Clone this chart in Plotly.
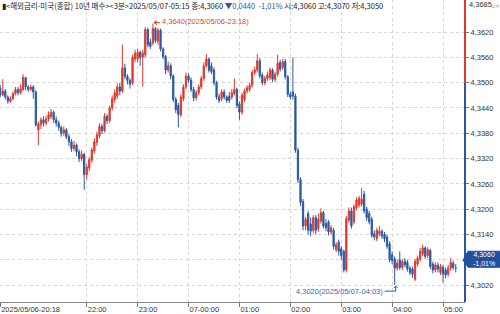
import pandas as pd
import plotly.graph_objects as go

# ---------------- data ----------------
times = pd.date_range("2025-05-06 20:18", periods=180, freq="3min")

opens = [
    4.3487, 4.3471, 4.3480, 4.3466, 4.3456, 4.3462, 4.3474, 4.3484, 4.3476, 4.3484,
    4.3512, 4.3490, 4.3484, 4.3490, 4.3478, 4.3388, 4.3400, 4.3412, 4.3404, 4.3414,
    4.3420, 4.3430, 4.3412, 4.3404, 4.3394, 4.3380, 4.3388, 4.3372, 4.3360, 4.3344,
    4.3352, 4.3336, 4.3320, 4.3330, 4.3282, 4.3298, 4.3316, 4.3338, 4.3358, 4.3374,
    4.3396, 4.3386, 4.3420, 4.3410, 4.3440, 4.3460, 4.3468, 4.3490, 4.3480, 4.3535,
    4.3515, 4.3505, 4.3500, 4.3556, 4.3556, 4.3572, 4.3560, 4.3566, 4.3626, 4.3596,
    4.3594, 4.3628, 4.3598, 4.3624, 4.3580, 4.3562, 4.3530, 4.3540, 4.3516, 4.3460,
    4.3446, 4.3424, 4.3462, 4.3490, 4.3516, 4.3506, 4.3484, 4.3464, 4.3476, 4.3490,
    4.3510, 4.3540, 4.3556, 4.3540, 4.3530, 4.3500, 4.3466, 4.3462, 4.3478, 4.3466,
    4.3468, 4.3466, 4.3474, 4.3484, 4.3450, 4.3430, 4.3460, 4.3480, 4.3484, 4.3494,
    4.3524, 4.3530, 4.3552, 4.3518, 4.3500, 4.3510, 4.3512, 4.3530, 4.3508, 4.3520,
    4.3548, 4.3536, 4.3550, 4.3514, 4.3472, 4.3478, 4.3468, 4.3340, 4.3270, 4.3218,
    4.3160, 4.3190, 4.3165, 4.3150, 4.3180, 4.3154, 4.3172, 4.3192, 4.3166, 4.3170,
    4.3146, 4.3150, 4.3104, 4.3122, 4.3106, 4.3100, 4.3056, 4.3174, 4.3196, 4.3170,
    4.3204, 4.3210, 4.3212, 4.3236, 4.3200, 4.3190, 4.3176, 4.3142, 4.3130, 4.3142,
    4.3148, 4.3140, 4.3134, 4.3118, 4.3092, 4.3082, 4.3060, 4.3080, 4.3062, 4.3076,
    4.3074, 4.3060, 4.3058, 4.3034, 4.3070, 4.3082, 4.3094, 4.3108, 4.3090, 4.3102,
    4.3070, 4.3056, 4.3068, 4.3050, 4.3062, 4.3056, 4.3046, 4.3060, 4.3072, 4.3060,
]
highs = [
    4.3495, 4.3508, 4.3485, 4.3470, 4.3468, 4.3480, 4.3490, 4.3490, 4.3496, 4.3520,
    4.3514, 4.3494, 4.3496, 4.3494, 4.3482, 4.3408, 4.3418, 4.3420, 4.3422, 4.3432,
    4.3438, 4.3434, 4.3420, 4.3410, 4.3398, 4.3396, 4.3392, 4.3378, 4.3366, 4.3362,
    4.3356, 4.3342, 4.3340, 4.3334, 4.3306, 4.3324, 4.3346, 4.3368, 4.3384, 4.3404,
    4.3402, 4.3428, 4.3426, 4.3446, 4.3470, 4.3484, 4.3498, 4.3500, 4.3590, 4.3545,
    4.3520, 4.3510, 4.3566, 4.3578, 4.3580, 4.3576, 4.3578, 4.3632, 4.3630, 4.3604,
    4.3640, 4.3632, 4.3630, 4.3628, 4.3584, 4.3566, 4.3550, 4.3546, 4.3520, 4.3466,
    4.3452, 4.3472, 4.3496, 4.3524, 4.3522, 4.3512, 4.3490, 4.3482, 4.3496, 4.3516,
    4.3548, 4.3568, 4.3560, 4.3548, 4.3536, 4.3504, 4.3474, 4.3484, 4.3484, 4.3470,
    4.3478, 4.3484, 4.3510, 4.3488, 4.3456, 4.3476, 4.3486, 4.3494, 4.3500, 4.3530,
    4.3538, 4.3568, 4.3558, 4.3524, 4.3516, 4.3526, 4.3536, 4.3534, 4.3526, 4.3566,
    4.3554, 4.3556, 4.3556, 4.3518, 4.3478, 4.3560, 4.3474, 4.3346, 4.3276, 4.3224,
    4.3182, 4.3196, 4.3180, 4.3186, 4.3186, 4.3190, 4.3202, 4.3196, 4.3176, 4.3174,
    4.3162, 4.3156, 4.3122, 4.3128, 4.3112, 4.3104, 4.3184, 4.3204, 4.3204, 4.3212,
    4.3228, 4.3232, 4.3250, 4.3244, 4.3206, 4.3196, 4.3182, 4.3150, 4.3156, 4.3160,
    4.3152, 4.3146, 4.3140, 4.3124, 4.3100, 4.3088, 4.3080, 4.3100, 4.3082, 4.3084,
    4.3080, 4.3066, 4.3064, 4.3082, 4.3090, 4.3108, 4.3116, 4.3112, 4.3110, 4.3106,
    4.3076, 4.3074, 4.3074, 4.3070, 4.3068, 4.3062, 4.3068, 4.3084, 4.3078, 4.3070,
]
lows = [
    4.3465, 4.3468, 4.3460, 4.3450, 4.3452, 4.3458, 4.3470, 4.3470, 4.3472, 4.3480,
    4.3482, 4.3478, 4.3480, 4.3462, 4.3396, 4.3352, 4.3390, 4.3396, 4.3398, 4.3408,
    4.3414, 4.3404, 4.3396, 4.3386, 4.3372, 4.3374, 4.3366, 4.3350, 4.3336, 4.3338,
    4.3326, 4.3312, 4.3314, 4.3246, 4.3270, 4.3290, 4.3310, 4.3332, 4.3350, 4.3368,
    4.3378, 4.3382, 4.3402, 4.3404, 4.3434, 4.3452, 4.3462, 4.3470, 4.3476, 4.3508,
    4.3496, 4.3486, 4.3494, 4.3548, 4.3548, 4.3540, 4.3490, 4.3560, 4.3584, 4.3580,
    4.3588, 4.3594, 4.3590, 4.3574, 4.3556, 4.3520, 4.3524, 4.3508, 4.3454, 4.3428,
    4.3394, 4.3418, 4.3456, 4.3484, 4.3500, 4.3478, 4.3456, 4.3458, 4.3470, 4.3484,
    4.3504, 4.3536, 4.3524, 4.3520, 4.3494, 4.3460, 4.3452, 4.3456, 4.3460, 4.3452,
    4.3452, 4.3460, 4.3470, 4.3440, 4.3412, 4.3424, 4.3454, 4.3474, 4.3478, 4.3488,
    4.3518, 4.3524, 4.3510, 4.3494, 4.3494, 4.3504, 4.3506, 4.3502, 4.3502, 4.3514,
    4.3526, 4.3530, 4.3508, 4.3466, 4.3460, 4.3460, 4.3334, 4.3262, 4.3208, 4.3150,
    4.3150, 4.3140, 4.3136, 4.3144, 4.3140, 4.3146, 4.3166, 4.3154, 4.3148, 4.3138,
    4.3140, 4.3104, 4.3098, 4.3090, 4.3080, 4.3050, 4.3050, 4.3168, 4.3154, 4.3164,
    4.3198, 4.3204, 4.3206, 4.3190, 4.3172, 4.3164, 4.3132, 4.3126, 4.3124, 4.3136,
    4.3130, 4.3122, 4.3106, 4.3074, 4.3070, 4.3020, 4.3054, 4.3056, 4.3056, 4.3062,
    4.3052, 4.3044, 4.3038, 4.3030, 4.3064, 4.3076, 4.3088, 4.3082, 4.3084, 4.3058,
    4.3048, 4.3050, 4.3050, 4.3044, 4.3026, 4.3036, 4.3040, 4.3054, 4.3056, 4.3050,
]
closes = [
    4.3471, 4.3480, 4.3466, 4.3456, 4.3462, 4.3474, 4.3484, 4.3476, 4.3486, 4.3512,
    4.3490, 4.3484, 4.3490, 4.3478, 4.3400, 4.3402, 4.3412, 4.3404, 4.3414, 4.3424,
    4.3430, 4.3412, 4.3404, 4.3394, 4.3380, 4.3388, 4.3372, 4.3360, 4.3344, 4.3352,
    4.3336, 4.3320, 4.3330, 4.3282, 4.3300, 4.3318, 4.3340, 4.3360, 4.3376, 4.3396,
    4.3386, 4.3420, 4.3410, 4.3440, 4.3462, 4.3476, 4.3490, 4.3480, 4.3535, 4.3515,
    4.3505, 4.3496, 4.3560, 4.3570, 4.3572, 4.3560, 4.3570, 4.3626, 4.3590, 4.3586,
    4.3628, 4.3600, 4.3624, 4.3580, 4.3562, 4.3530, 4.3540, 4.3516, 4.3460, 4.3436,
    4.3424, 4.3466, 4.3490, 4.3516, 4.3506, 4.3484, 4.3464, 4.3476, 4.3490, 4.3510,
    4.3540, 4.3556, 4.3530, 4.3526, 4.3500, 4.3466, 4.3458, 4.3478, 4.3466, 4.3458,
    4.3458, 4.3476, 4.3484, 4.3446, 4.3430, 4.3470, 4.3480, 4.3488, 4.3494, 4.3524,
    4.3530, 4.3552, 4.3516, 4.3500, 4.3510, 4.3518, 4.3530, 4.3508, 4.3520, 4.3546,
    4.3532, 4.3550, 4.3514, 4.3472, 4.3466, 4.3468, 4.3340, 4.3270, 4.3216, 4.3160,
    4.3176, 4.3150, 4.3148, 4.3180, 4.3150, 4.3176, 4.3192, 4.3160, 4.3156, 4.3146,
    4.3156, 4.3112, 4.3116, 4.3100, 4.3090, 4.3056, 4.3178, 4.3196, 4.3160, 4.3206,
    4.3222, 4.3226, 4.3224, 4.3196, 4.3180, 4.3170, 4.3138, 4.3134, 4.3150, 4.3148,
    4.3136, 4.3130, 4.3112, 4.3080, 4.3078, 4.3060, 4.3072, 4.3062, 4.3076, 4.3068,
    4.3058, 4.3050, 4.3046, 4.3076, 4.3084, 4.3100, 4.3108, 4.3088, 4.3104, 4.3064,
    4.3056, 4.3068, 4.3058, 4.3064, 4.3046, 4.3044, 4.3060, 4.3074, 4.3062, 4.3060,
]

prev_close = 4.3500
y_ticks = [4.3020, 4.3080, 4.3140, 4.3200, 4.3260, 4.3320, 4.3380, 4.3440, 4.3500, 4.3560, 4.3620]
# the 4,3080 label sits under the current-price tag in the reference
y_tick_labels = ["4,3020", "", "4,3140", "4,3200", "4,3260", "4,3320", "4,3380",
                 "4,3440", "4,3500", "4,3560", "4,3620"]
x_ticks = ["2025-05-06 20:18", "2025-05-06 22:00", "2025-05-06 23:00", "2025-05-07 00:00",
           "2025-05-07 01:00", "2025-05-07 02:00", "2025-05-07 03:00", "2025-05-07 04:00",
           "2025-05-07 05:00"]
x_tick_labels = ["2025/05/06-20:18", "22:00", "23:00", "07-00:00", "01:00", "02:00",
                 "03:00", "04:00", "05:00"]
axis_top_label = 4.3685

# ---------------- style ----------------
RED = "#e0382c"
BLUE = "#2b58a6"
NUMFONT = "Liberation Sans, Noto Sans CJK KR, sans-serif"
KRFONT = "Noto Sans CJK KR, sans-serif"

def fmt(v):
    return f"{v:.4f}".replace(".", ",")

fig = go.Figure()
fig.add_trace(go.Candlestick(
    x=times, open=opens, high=highs, low=lows, close=closes,
    increasing=dict(line=dict(color=RED, width=1), fillcolor=RED),
    decreasing=dict(line=dict(color=BLUE, width=1), fillcolor=BLUE),
    whiskerwidth=0, showlegend=False, hoverinfo="skip",
))

step = pd.Timedelta(minutes=3)
x_range = [times[0] - step * 0.08, times[0] + step * 182.63]
y_range = [4.2980, 4.3696]

fig.update_layout(
    width=500, height=314,
    margin=dict(l=0, r=35, t=0, b=12),
    paper_bgcolor="white", plot_bgcolor="white",
    showlegend=False,
    xaxis=dict(
        type="date", range=x_range, rangeslider=dict(visible=False),
        tickvals=x_ticks, ticktext=x_tick_labels,
        ticklabelposition="outside right",
        tickfont=dict(family=NUMFONT, size=7.5, color="#333"),
        ticks="outside", ticklen=4, tickcolor="#777",
        showgrid=True, gridcolor="#d6d6d6", griddash="dot", gridwidth=1,
        showline=True, linecolor="#888", linewidth=1, zeroline=False,
    ),
    yaxis=dict(
        side="right", range=y_range,
        tickvals=y_ticks, ticktext=y_tick_labels,
        tickfont=dict(family=NUMFONT, size=7.5, color="#333"),
        ticks="outside", ticklen=3, tickcolor="#777",
        showgrid=True, gridcolor="#d6d6d6", griddash="dot", gridwidth=1,
        showline=False, zeroline=False,
    ),
)

# coloured price axis line: red above previous close, blue below
fig.add_shape(type="line", xref="paper", yref="y", x0=1, x1=1,
              y0=prev_close, y1=y_range[1], line=dict(color=RED, width=2), layer="above")
fig.add_shape(type="line", xref="paper", yref="y", x0=1, x1=1,
              y0=y_range[0], y1=prev_close, line=dict(color=BLUE, width=2), layer="above")

# header text
last = closes[-1]
chg = last - prev_close
pct = chg / prev_close * 100
header = (f"▮&lt;해외금리-미국(종합) 10년 매수&gt;&lt;3분&gt;{times[-1].strftime('%Y/%m/%d-%H:%M')} "
          f"종:{fmt(last)} <span style='color:{BLUE}'>▼{fmt(abs(chg))}  {pct:.2f}%</span>".replace(".", ",")
          + f" 시:{fmt(opens[-1])} 고:{fmt(highs[-1])} 저:{fmt(lows[-1])}")
fig.add_annotation(xref="paper", yref="paper", x=0, y=1, xanchor="left", yanchor="top",
                   text=header, showarrow=False, xshift=0, yshift=2,
                   font=dict(family=KRFONT, size=7.5, color="#222"))

# top axis value and window icons
fig.add_annotation(xref="paper", yref="y", x=1, y=axis_top_label, xanchor="left",
                   text=fmt(axis_top_label), showarrow=False, xshift=2,
                   font=dict(family=NUMFONT, size=7.5, color="#333"))
fig.add_annotation(xref="paper", yref="paper", x=1, y=1, xanchor="left", yanchor="top",
                   text="▫×", showarrow=False, xshift=24, yshift=0,
                   font=dict(family="DejaVu Sans", size=6, color="#999"))

# high marker
ih = highs.index(max(highs))
fig.add_shape(type="path", xref="x", yref="y", xsizemode="pixel", ysizemode="pixel",
              xanchor=times[ih], yanchor=highs[ih],
              path="M1,1 L7,1 M1,1 L4,3 M1,1 L4,-1",
              line=dict(color=RED, width=1))
fig.add_annotation(x=times[ih], y=highs[ih], xanchor="left", yanchor="middle",
                   text=f"{fmt(highs[ih])}({times[ih].strftime('%Y/%m/%d-%H:%M')})",
                   showarrow=False, xshift=7, yshift=2,
                   font=dict(family=NUMFONT, size=7.5, color="#d9463b"))

# low marker
il = lows.index(min(lows))
fig.add_shape(type="path", xref="x", yref="y", xsizemode="pixel", ysizemode="pixel",
              xanchor=times[il], yanchor=lows[il],
              path="M-10,-6 L1,-6 L1,-1 M1,-1 L-1,-3 M1,-1 L3,-3",
              line=dict(color=BLUE, width=1))
fig.add_annotation(x=times[il], y=lows[il], xanchor="right", yanchor="middle",
                   text=f"{fmt(lows[il])}({times[il].strftime('%Y/%m/%d-%H:%M')})",
                   showarrow=False, xshift=-10, yshift=-6,
                   font=dict(family=NUMFONT, size=7.5, color="#3d66b0"))

# current price tag
fig.add_shape(type="path", xref="paper", yref="y", xsizemode="pixel", ysizemode="pixel",
              xanchor=1, yanchor=last,
              path="M-2,8 L3,1 L36,1 L36,17 L3,17 Z",
              fillcolor="#23509c", line=dict(color="#23509c", width=1), layer="above")
fig.add_annotation(xref="paper", yref="y", x=1, y=last, xanchor="center", yanchor="middle",
                   text=f"{fmt(last)}<br>{pct:.2f}%".replace(".", ","), showarrow=False,
                   xshift=19, yshift=9,
                   font=dict(family=NUMFONT, size=7, color="white"))

fig.write_html("out.html")
